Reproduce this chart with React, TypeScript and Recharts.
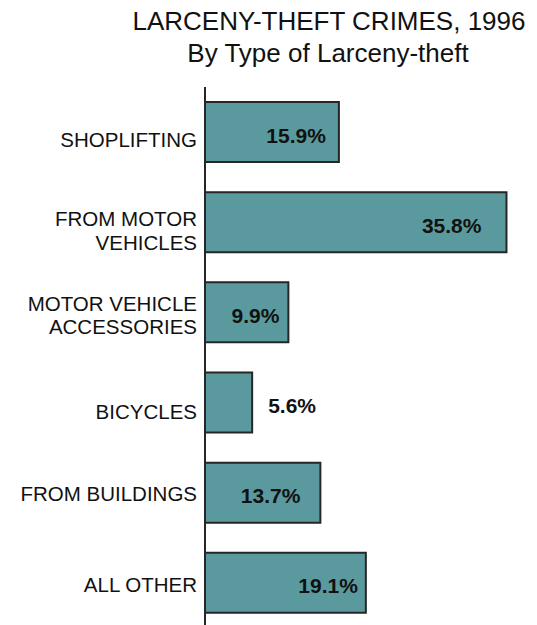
import React from 'react';
import { BarChart, Bar, XAxis, YAxis, LabelList } from 'recharts';

// ---- data ----
const categories = [
  'SHOPLIFTING',
  'FROM MOTOR\nVEHICLES',
  'MOTOR VEHICLE\nACCESSORIES',
  'BICYCLES',
  'FROM BUILDINGS',
  'ALL OTHER',
];
const percentages = [15.9, 35.8, 9.9, 5.6, 13.7, 19.1];
const valueLabels = ['15.9%', '35.8%', '9.9%', '5.6%', '13.7%', '19.1%'];
const titleLines = ['LARCENY-THEFT CRIMES, 1996', 'By Type of Larceny-theft'];

// ---- layout tweaks (not data) ----
const TICK_DY = [8, 8.5, 3, 9, 1, 2];
const LABEL_GAP = [13, 25, 9, 16, 20, 8];

const FONT = '"Liberation Sans", Arial, Helvetica, sans-serif';
const BAR_FILL = '#5A9A9E';
const DARK = '#262626';

const data = categories.map((c, i) => ({
  category: c,
  value: percentages[i],
  label: valueLabels[i],
}));

const CategoryTick = (props: any) => {
  const { x, y, payload, index } = props;
  const lines = String(payload.value).split('\n');
  const n = lines.length;
  const dy = TICK_DY[index] ?? 5;
  return (
    <g>
      {lines.map((l, i) => (
        <text
          key={i}
          x={x}
          y={y + dy + (i - (n - 1) / 2) * 23.5 + 7.3}
          textAnchor="end"
          fontSize={20.5}
          fontFamily={FONT}
          fill="#111"
        >
          {l}
        </text>
      ))}
    </g>
  );
};

const ValueLabel = (props: any) => {
  const { x, y, width, height, value } = props;
  let idx = props.index;
  if (idx === undefined || idx === null) idx = percentages.indexOf(Number(value));
  const v = percentages[idx];
  const text = valueLabels[idx];
  const gap = LABEL_GAP[idx] ?? 14;
  const inside = v >= 8;
  const cy = y + height / 2 + 3;
  return (
    <text
      x={inside ? x + width - gap : x + width + gap}
      y={cy}
      textAnchor={inside ? 'end' : 'start'}
      dominantBaseline="central"
      fontSize={21}
      fontWeight="bold"
      fontFamily={FONT}
      fill="#111"
    >
      {text}
    </text>
  );
};

export default function App() {
  return (
    <div style={{ position: 'absolute', left: 0, top: 0, width: 537, height: 625, background: '#fff', overflow: 'hidden' }}>
      <svg width={537} height={80} style={{ position: 'absolute', left: 0, top: 0 }}>
        <text x={329} y={30} textAnchor="middle" fontSize={26} fontFamily={FONT} fill="#111">
          {titleLines[0]}
        </text>
        <text x={328} y={62} textAnchor="middle" fontSize={26} fontFamily={FONT} fill="#111">
          {titleLines[1]}
        </text>
      </svg>
      <div style={{ position: 'absolute', left: 0, top: 0 }}>
        <BarChart
          width={537}
          height={641}
          data={data}
          layout="vertical"
          margin={{ top: 87, right: 12, bottom: 13, left: 0 }}
        >
          <XAxis type="number" domain={[0, 38]} hide />
          <YAxis
            type="category"
            dataKey="category"
            width={205}
            tickLine={false}
            tickSize={0}
            tickMargin={8}
            axisLine={{ stroke: DARK, strokeWidth: 2 }}
            tick={<CategoryTick />}
            interval={0}
          />
          <Bar
            dataKey="value"
            fill={BAR_FILL}
            stroke={DARK}
            strokeWidth={2}
            barSize={60}
            isAnimationActive={false}
          >
            <LabelList dataKey="value" content={<ValueLabel />} />
          </Bar>
        </BarChart>
      </div>
    </div>
  );
}
